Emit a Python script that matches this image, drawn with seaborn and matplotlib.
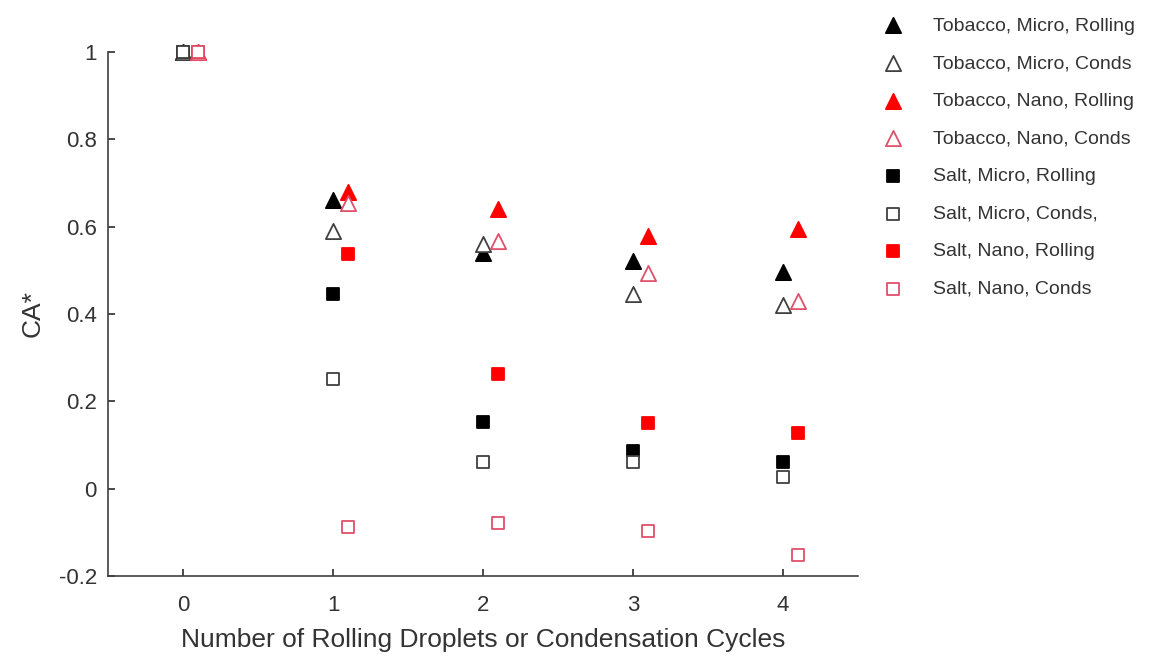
import matplotlib
matplotlib.use("Agg")
import matplotlib.pyplot as plt
import seaborn as sns
import pandas as pd
import numpy as np
from matplotlib.ticker import FuncFormatter

sns.set_theme(style="ticks")
plt.rcParams['font.family'] = ['Liberation Sans', 'DejaVu Sans']

cycles = [0, 1, 2, 3, 4]
labels = ["Tobacco, Micro, Rolling", "Tobacco, Micro, Conds", "Tobacco, Nano, Rolling",
          "Tobacco, Nano, Conds", "Salt, Micro, Rolling", "Salt, Micro, Conds,",
          "Salt, Nano, Rolling", "Salt, Nano, Conds"]
tob_micro_roll = [1.0, 0.66, 0.54, 0.52, 0.496]
tob_micro_cond = [1.0, 0.59, 0.56, 0.445, 0.42]
tob_nano_roll = [1.0, 0.68, 0.64, 0.578, 0.594]
tob_nano_cond = [1.0, 0.655, 0.567, 0.494, 0.43]
salt_micro_roll = [1.0, 0.445, 0.153, 0.085, 0.062]
salt_micro_cond = [1.0, 0.25, 0.062, 0.062, 0.027]
salt_nano_roll = [1.0, 0.537, 0.263, 0.151, 0.128]
salt_nano_cond = [1.0, -0.087, -0.078, -0.098, -0.153]

series = [tob_micro_roll, tob_micro_cond, tob_nano_roll, tob_nano_cond,
          salt_micro_roll, salt_micro_cond, salt_nano_roll, salt_nano_cond]
offsets = [0, 0, 0.1, 0.1, 0, 0, 0.1, 0.1]
markers = ['^', '^', '^', '^', 's', 's', 's', 's']
faces = ['black', 'white', 'red', 'white', 'black', 'white', 'red', 'white']
edges = ['black', '#404040', 'red', '#e0506a', 'black', '#404040', 'red', '#e0506a']
sizes = [120, 120, 120, 120, 70, 70, 70, 70]

fig = plt.figure(figsize=(11.54, 6.56), dpi=100)
ax = fig.add_axes([0.0936, 0.122, 0.65, 0.799])

for lab, vals, off, m, fc, ec, s in zip(labels, series, offsets, markers, faces, edges, sizes):
    df = pd.DataFrame({"x": np.array(cycles) + off, "y": vals})
    sns.scatterplot(data=df, x="x", y="y", ax=ax, marker=m, s=s,
                    facecolor=fc, edgecolor=ec, linewidth=1.3, label=lab,
                    clip_on=False, zorder=3)

ax.set_xlim(-0.5, 4.5)
ax.set_ylim(-0.2, 1.0)
ax.set_xticks(cycles)
ax.set_yticks([-0.2, 0, 0.2, 0.4, 0.6, 0.8, 1.0])
ax.yaxis.set_major_formatter(FuncFormatter(lambda v, p: ('%g' % round(v, 2))))
ax.tick_params(axis='y', labelsize=16, colors='#333333', length=5, direction='in', pad=8)
ax.tick_params(axis='x', labelsize=16, colors='#333333', length=5, direction='in', pad=14)
for s in ['top', 'right']:
    ax.spines[s].set_visible(False)
for s in ['left', 'bottom']:
    ax.spines[s].set_color('#404040')
    ax.spines[s].set_linewidth(1.2)
ax.set_xlabel("Number of Rolling Droplets or Condensation Cycles", fontsize=19,
              color='#333333', labelpad=8)
ax.set_ylabel("CA*", fontsize=19, color='#333333', labelpad=10)

leg = ax.legend(loc='upper left', bbox_to_anchor=(0.997, 1.10), frameon=False,
                fontsize=14, labelspacing=1.03, handletextpad=1.05, markerscale=1.0)
for t in leg.get_texts():
    t.set_color('#333333')

fig.savefig("out.png", dpi=100)
